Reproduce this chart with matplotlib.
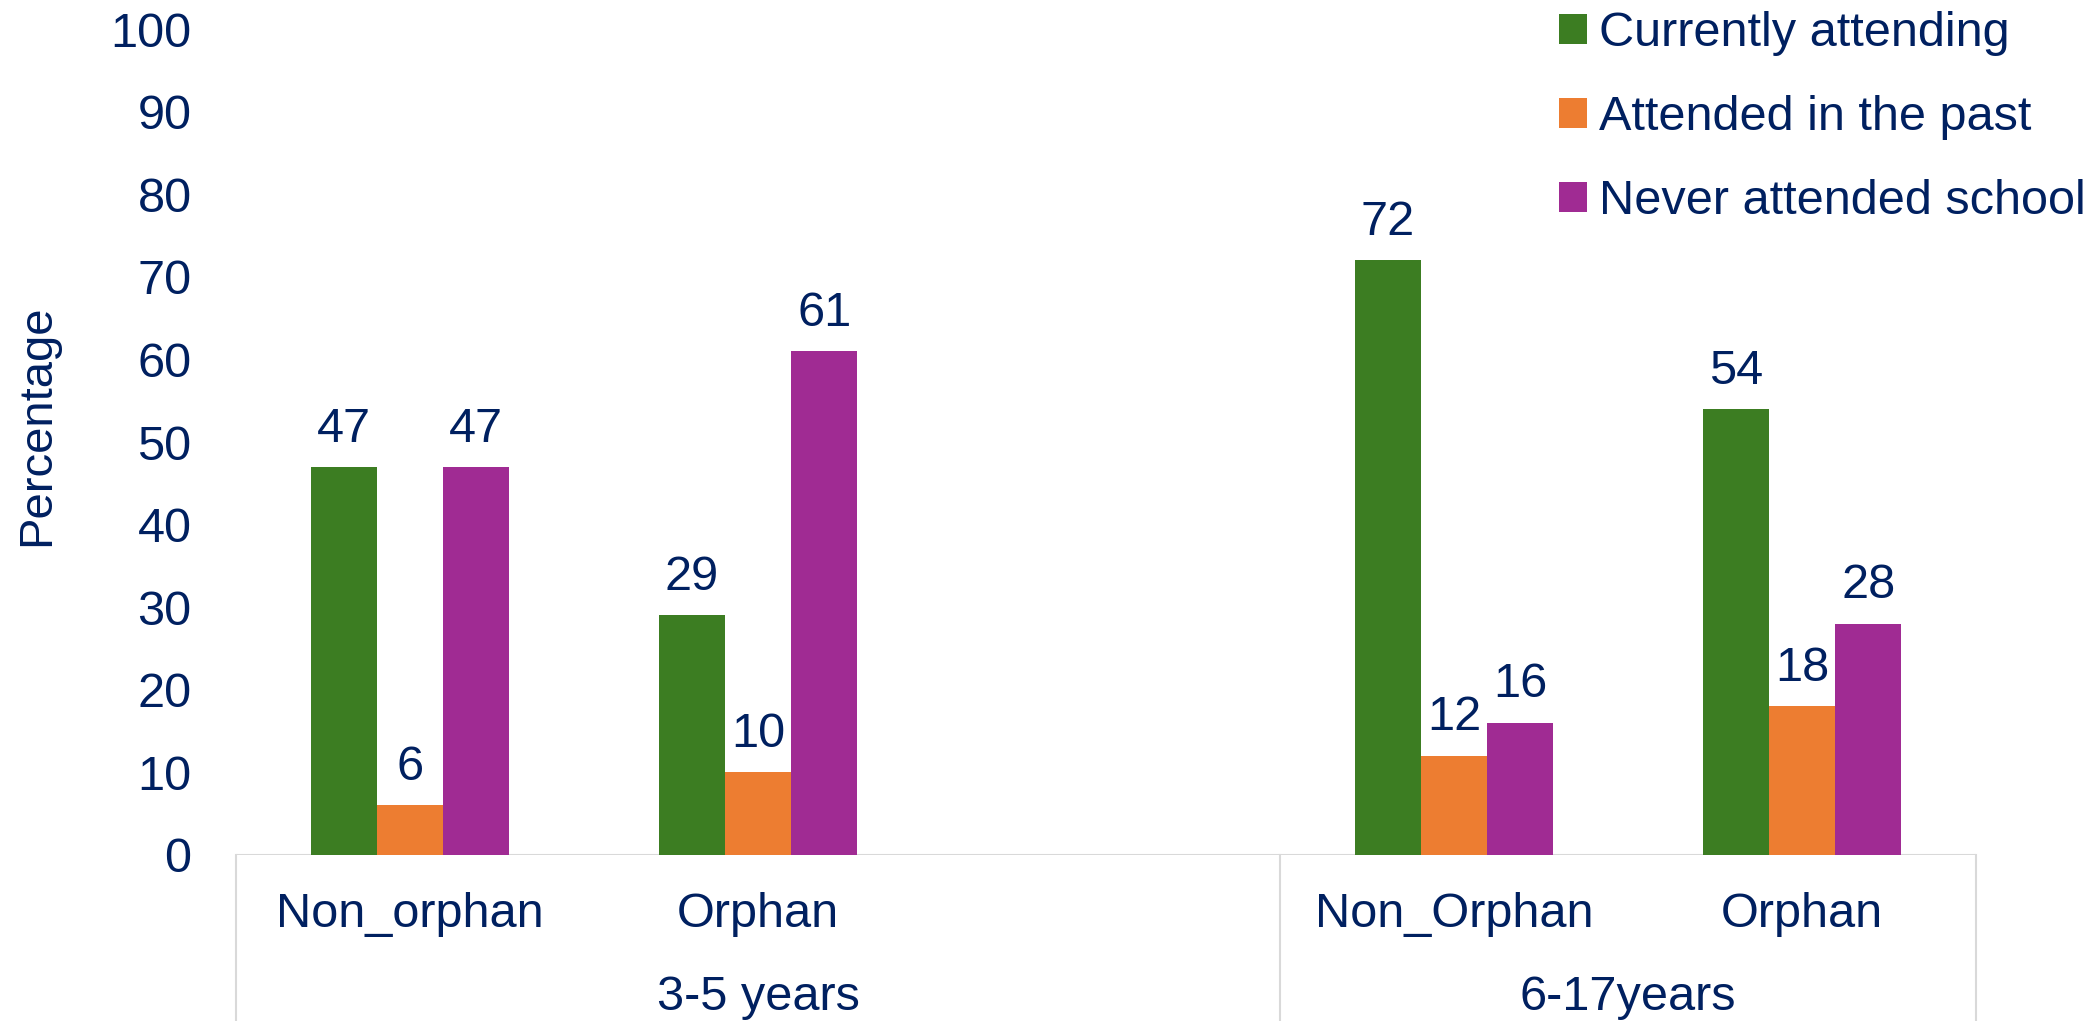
import matplotlib
matplotlib.use("Agg")
import matplotlib.pyplot as plt
from matplotlib.patches import Patch
import numpy as np

categories = ["Non_orphan", "Orphan", "", "Non_Orphan", "Orphan"]
groups = ["3-5 years", "6-17years"]
series = ["Currently attending", "Attended in the past", "Never attended school"]
currently = [47, 29, None, 72, 54]
past = [6, 10, None, 12, 18]
never = [47, 61, None, 16, 28]
yticks = [0, 10, 20, 30, 40, 50, 60, 70, 80, 90, 100]

colors = ["#3C7D22", "#ED7D31", "#A02B93"]
txt = "#002060"

plt.rcParams['font.family'] = ['Liberation Sans', 'DejaVu Sans']
fs = 35
fs_y = 34

fig = plt.figure(figsize=(20.94, 10.21), dpi=100)
ax = fig.add_axes([0.1127, 0.1629, 0.9437 - 0.1127, 0.9712 - 0.1629])

x = np.arange(len(categories))
w = 0.19
for i, (vals, c) in enumerate(zip([currently, past, never], colors)):
    xs = [xi + (i - 1) * w for xi, v in zip(x, vals) if v is not None]
    vs = [v for v in vals if v is not None]
    bars = ax.bar(xs, vs, width=w, color=c, zorder=2)
    for b, v in zip(bars, vs):
        ax.annotate(f"{v:.0f}", (b.get_x() + b.get_width() / 2, v),
                    xytext=(0, 11), textcoords="offset points",
                    ha="center", va="bottom", fontsize=fs, color=txt)

ax.set_xlim(-0.5, len(categories) - 0.5)
ax.set_ylim(0, 100)
ax.set_yticks(yticks)
ax.tick_params(axis='y', length=0, pad=32, labelsize=fs, labelcolor=txt)
ax.set_xticks([])
for s in ax.spines.values():
    s.set_visible(False)
ax.axhline(0, color="#d9d9d9", lw=1.5, zorder=1)

tr = ax.get_xaxis_transform()
for xi, lab in zip(x, categories):
    if lab:
        ax.text(xi, -0.072, lab, transform=tr, ha="center", va="center",
                fontsize=fs, color=txt)
ax.text(1.0, -0.173, groups[0], transform=tr, ha="center", va="center", fontsize=fs, color=txt)
ax.text(3.5, -0.173, groups[1], transform=tr, ha="center", va="center", fontsize=fs, color=txt)
for xv in [-0.5, 2.5, 4.5]:
    ax.plot([xv, xv], [0, -0.21], transform=tr, color="#d9d9d9", lw=1.5, clip_on=False)

fig.text(37 / 2094, 1 - 425 / 1021, "Percentage", rotation=90, ha="center", va="center",
         fontsize=fs_y, color=txt)

handles = [Patch(facecolor=c, edgecolor='none') for c in colors]
leg = fig.legend(handles, series, loc="upper left", bbox_to_anchor=(0.7445, 0.989),
                 frameon=False, fontsize=fs, handlelength=0.58, handleheight=0.58,
                 handletextpad=0.25, labelspacing=0.8, borderpad=0, borderaxespad=0)
for t in leg.get_texts():
    t.set_color(txt)

fig.savefig("out.png", dpi=100)
